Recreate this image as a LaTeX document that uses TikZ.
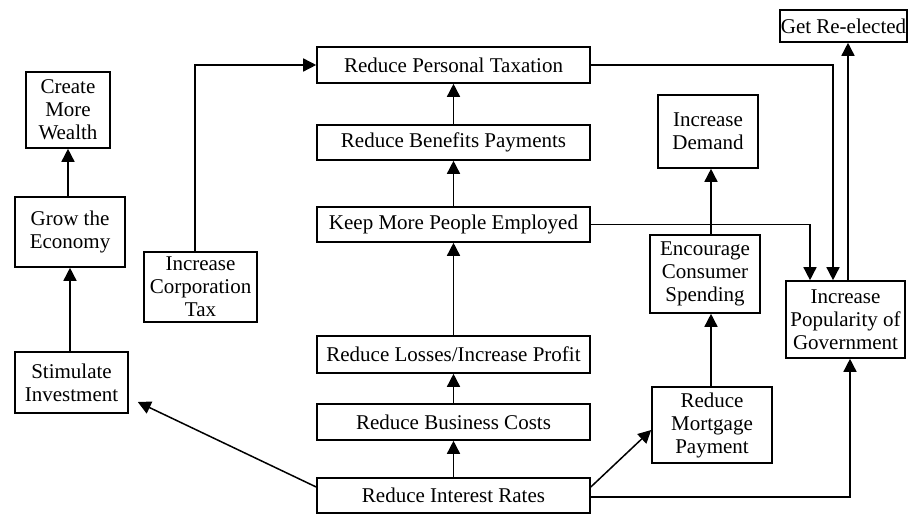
\documentclass[tikz,border=0pt]{standalone}
\usepackage{fontspec}
\setmainfont{Liberation Serif}
\usetikzlibrary{arrows.meta}
\begin{document}
\begin{tikzpicture}[x=0.5pt,y=-0.5pt,
  box/.style={draw=black,line width=0.8pt,align=center,inner sep=0pt,
    font=\fontsize{10.5}{11.5}\selectfont},
  arr/.style={draw=black,line width=0.75pt,-{Triangle[width=6.5pt,length=6.5pt]}}]
\useasboundingbox (0,0) rectangle (915,517);
% left column
\node[box,minimum width=42pt,minimum height=38pt] (cmw) at (68,110) {Create\\More\\Wealth};
\node[box,minimum width=55pt,minimum height=35pt] (gte) at (70,232) {Grow the\\Economy};
\node[box,minimum width=56.5pt,minimum height=30.5pt] (si) at (71.5,382.5) {Stimulate\\Investment};
\node[box,minimum width=56.5pt,minimum height=35pt] (ict) at (200.5,287) {Increase\\Corporation\\Tax};
% middle column
\node[box,minimum width=136.5pt,minimum height=18pt] (rpt) at (453.5,65) {Reduce Personal Taxation};
\node[box,minimum width=136.5pt,minimum height=17.5pt] (rbp) at (453.5,142.5) {Reduce Benefits Payments};
\node[box,minimum width=136.5pt,minimum height=17.5pt] (kmp) at (453.5,224.5) {Keep More People Employed};
\node[box,minimum width=136.5pt,minimum height=18.5pt] (rli) at (453.5,354.5) {Reduce Losses/Increase Profit};
\node[box,minimum width=136.5pt,minimum height=18pt] (rbc) at (453.5,422) {Reduce Business Costs};
\node[box,minimum width=136.5pt,minimum height=17.5pt] (rir) at (453.5,495.5) {Reduce Interest Rates};
% right side
\node[box,minimum width=50pt,minimum height=36.5pt] (id) at (708,131.5) {Increase\\Demand};
\node[box,minimum width=55pt,minimum height=39pt] (ecs) at (705,274) {Encourage\\Consumer\\Spending};
\node[box,minimum width=60pt,minimum height=38pt] (rmp) at (712,425) {Reduce\\Mortgage\\Payment};
\node[box,minimum width=59.5pt,minimum height=38.5pt] (ipg) at (845.5,319.5) {Increase\\Popularity of\\Government};
\node[box,minimum width=63.5pt,minimum height=16pt] (gre) at (843.5,26) {Get Re-elected};
% helper coordinates
\coordinate (x711) at (711,0);
\coordinate (x810) at (810,0);
\coordinate (x833) at (833,0);
\coordinate (x848) at (848,0);
\coordinate (x850) at (850,0);
\coordinate (x195) at (195,0);
% connectors
\draw[arr] (si.north -| gte.south) -- (gte.south);
\draw[arr] (gte.north -| cmw.south) -- (cmw.south);
\draw[arr] (ict.north -| x195) |- (rpt.west);
\draw[arr] (rbp.north) -- (rpt.south);
\draw[arr] (kmp.north) -- (rbp.south);
\draw[arr] (rli.north) -- (kmp.south);
\draw[arr] (rbc.north) -- (rli.south);
\draw[arr] (rir.north) -- (rbc.south);
\draw[arr] ([yshift=4.25pt]rir.west) -- ([xshift=4.5pt,yshift=-9.75pt]si.east);
\draw[arr] ([yshift=4.25pt]rir.east) -- ([yshift=-2.5pt]rmp.west);
\draw[arr] ([yshift=-0.75pt]rir.east) -| (ipg.south -| x850);
\draw[arr] (rmp.north -| x711) -- (ecs.south -| x711);
\draw[arr] (ecs.north -| x711) -- (id.south -| x711);
\draw[arr] (rpt.east) -| (ipg.north -| x833);
\draw[arr] (kmp.east) -| (ipg.north -| x810);
\draw[arr] (ipg.north -| x848) -- (gre.south -| x848);
\end{tikzpicture}
\end{document}
